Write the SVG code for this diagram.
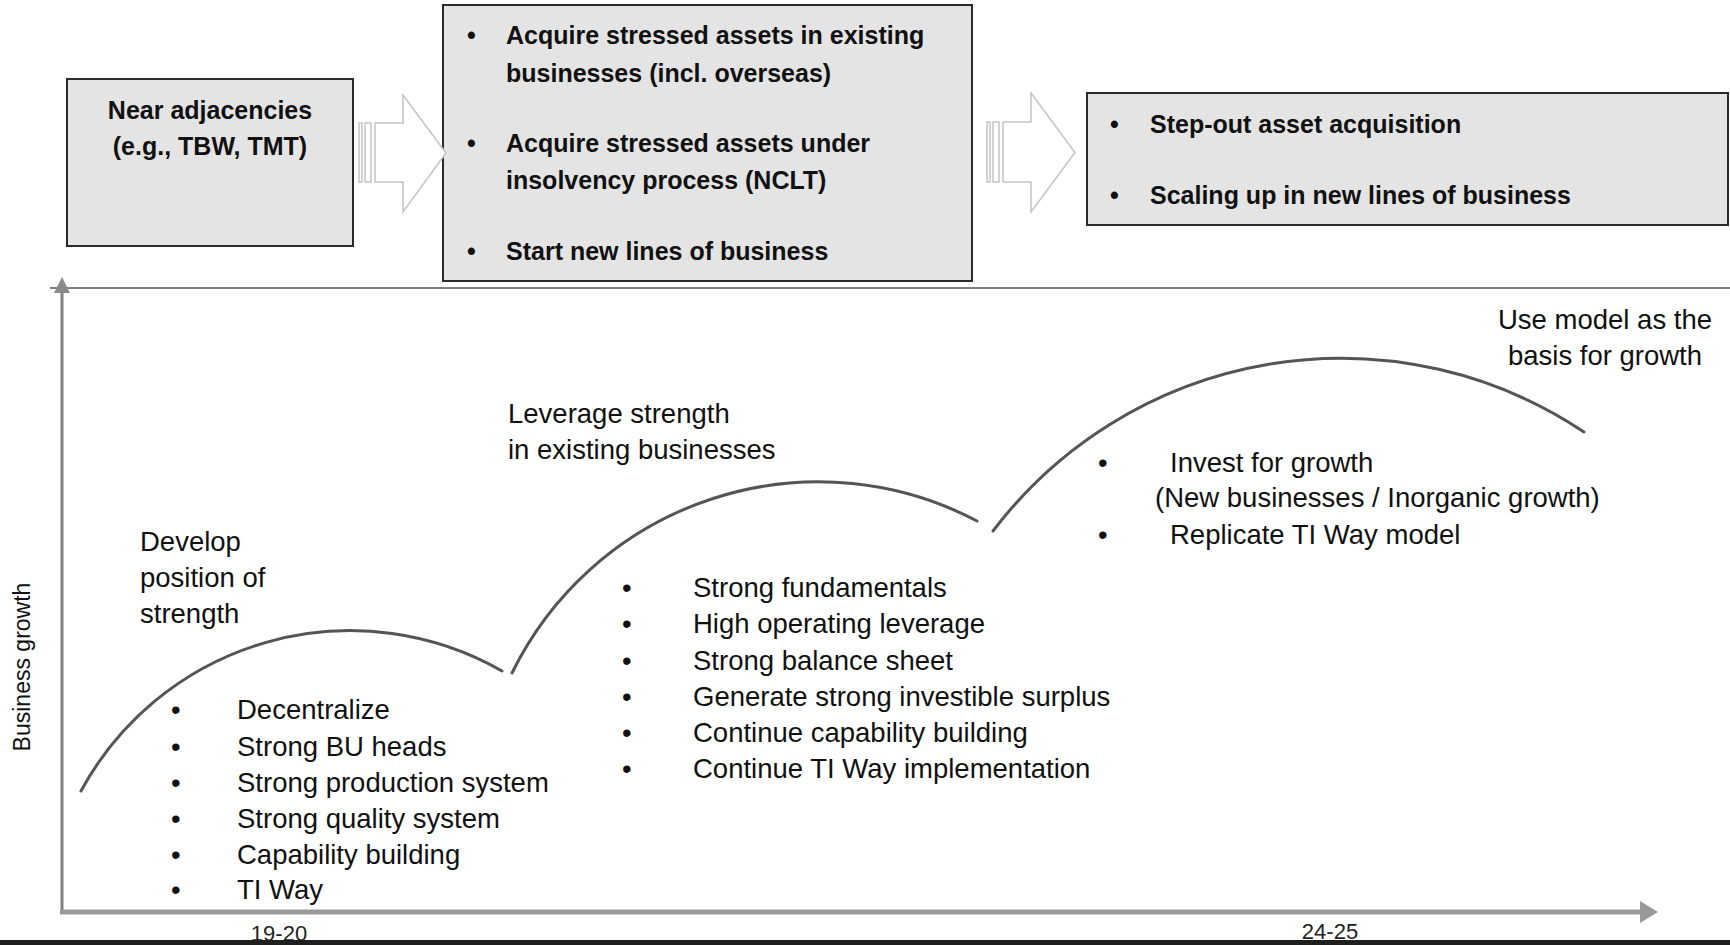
<svg xmlns="http://www.w3.org/2000/svg" width="1730" height="945" viewBox="0 0 1730 945">
  <style>
    .box { fill: #e4e4e4; stroke: #2a2a2a; stroke-width: 2; }
    .btxt { font-family: "Liberation Sans", Arial, sans-serif; font-weight: bold; font-size: 25px; fill: #111; }
    .txt { font-family: "Liberation Sans", Arial, sans-serif; font-size: 27.5px; fill: #111; }
    .tick { font-family: "Liberation Sans", Arial, sans-serif; font-size: 22px; fill: #222; }
    .blockarrow { fill: #ffffff; stroke: #c4c4c4; stroke-width: 1.5; }
    .curve { fill: none; stroke: #555; stroke-width: 3; stroke-linecap: round; }
    .axis { fill: #8a8a8a; }
  </style>
  <rect width="1730" height="945" fill="#ffffff"/>

  <!-- stage boxes -->
  <g id="near-adjacencies">
    <rect class="box" x="67" y="79" width="286" height="167"/>
    <text class="btxt" x="210" y="119" text-anchor="middle">Near adjacencies</text>
    <text class="btxt" x="210" y="155" text-anchor="middle">(e.g., TBW, TMT)</text>
  </g>

  <g id="stressed-assets">
    <rect class="box" x="443" y="5" width="529" height="276"/>
    <text class="btxt" x="467" y="44">•</text>
    <text class="btxt" x="506" y="44">Acquire stressed assets in existing</text>
    <text class="btxt" x="506" y="82">businesses (incl. overseas)</text>
    <text class="btxt" x="467" y="152">•</text>
    <text class="btxt" x="506" y="152">Acquire stressed assets under</text>
    <text class="btxt" x="506" y="189">insolvency process (NCLT)</text>
    <text class="btxt" x="467" y="260">•</text>
    <text class="btxt" x="506" y="260">Start new lines of business</text>
  </g>

  <g id="step-out">
    <rect class="box" x="1087" y="93" width="641" height="132"/>
    <text class="btxt" x="1110" y="133">•</text>
    <text class="btxt" x="1150" y="133">Step-out asset acquisition</text>
    <text class="btxt" x="1110" y="204">•</text>
    <text class="btxt" x="1150" y="204">Scaling up in new lines of business</text>
  </g>

  <!-- connectors: striped block arrows between the boxes -->
  <g id="connectors">
    <g id="arrow-1">
      <rect class="blockarrow" x="359" y="123" width="3" height="59"/>
      <rect class="blockarrow" x="365" y="123" width="6" height="59"/>
      <polygon class="blockarrow" points="375,123 403,123 403,95 446,153 403,212 403,182 375,182"/>
    </g>
    <g id="arrow-2">
      <rect class="blockarrow" x="987" y="122" width="3" height="60"/>
      <rect class="blockarrow" x="993" y="122" width="6" height="60"/>
      <polygon class="blockarrow" points="1003,122 1031,122 1031,93 1075,152.5 1031,212 1031,182 1003,182"/>
    </g>
  </g>

  <!-- separator and axes -->
  <line x1="50" y1="288" x2="1730" y2="288" stroke="#555" stroke-width="1.5"/>
  <g id="axes">
    <line x1="62" y1="913" x2="62" y2="290" stroke="#808080" stroke-width="3"/>
    <polygon class="axis" points="62,277 70,293 54,293"/>
    <line x1="60" y1="912" x2="1642" y2="912" stroke="#9a9a9a" stroke-width="5"/>
    <polygon points="1640,901 1658,912 1640,923" fill="#9a9a9a"/>
    <text class="tick" x="279" y="941" text-anchor="middle">19-20</text>
    <text class="tick" x="1330" y="939" text-anchor="middle">24-25</text>
    <text class="txt" style="font-size:23px" x="0" y="0" text-anchor="middle" transform="translate(30,667) rotate(-90)">Business growth</text>
  </g>
  <rect x="0" y="940" width="1730" height="5" fill="#1e1e1e"/>

  <!-- growth curves -->
  <g id="growth-curves">
    <path class="curve" d="M81,791 A306,306 0 0 1 502,671"/>
    <path class="curve" d="M512,673 A341,341 0 0 1 977,521"/>
    <path class="curve" d="M993,531 A437,437 0 0 1 1584,432"/>
  </g>

  <!-- phase 1 -->
  <g id="phase-1">
    <text class="txt" x="140" y="551">Develop</text>
    <text class="txt" x="140" y="587">position of</text>
    <text class="txt" x="140" y="623">strength</text>
    <text class="txt" x="171" y="719">•</text>
    <text class="txt" x="237" y="719">Decentralize</text>
    <text class="txt" x="171" y="756">•</text>
    <text class="txt" x="237" y="756">Strong BU heads</text>
    <text class="txt" x="171" y="792">•</text>
    <text class="txt" x="237" y="792">Strong production system</text>
    <text class="txt" x="171" y="828">•</text>
    <text class="txt" x="237" y="828">Strong quality system</text>
    <text class="txt" x="171" y="864">•</text>
    <text class="txt" x="237" y="864">Capability building</text>
    <text class="txt" x="171" y="899">•</text>
    <text class="txt" x="237" y="899">TI Way</text>
  </g>

  <!-- phase 2 -->
  <g id="phase-2">
    <text class="txt" x="508" y="423">Leverage strength</text>
    <text class="txt" x="508" y="459">in existing businesses</text>
    <text class="txt" x="622" y="597">•</text>
    <text class="txt" x="693" y="597">Strong fundamentals</text>
    <text class="txt" x="622" y="633">•</text>
    <text class="txt" x="693" y="633">High operating leverage</text>
    <text class="txt" x="622" y="670">•</text>
    <text class="txt" x="693" y="670">Strong balance sheet</text>
    <text class="txt" x="622" y="706">•</text>
    <text class="txt" x="693" y="706">Generate strong investible surplus</text>
    <text class="txt" x="622" y="742">•</text>
    <text class="txt" x="693" y="742">Continue capability building</text>
    <text class="txt" x="622" y="778">•</text>
    <text class="txt" x="693" y="778">Continue TI Way implementation</text>
  </g>

  <!-- phase 3 -->
  <g id="phase-3">
    <text class="txt" x="1605" y="329" text-anchor="middle">Use model as the</text>
    <text class="txt" x="1605" y="365" text-anchor="middle">basis for growth</text>
    <text class="txt" x="1098" y="472">•</text>
    <text class="txt" x="1170" y="472">Invest for growth</text>
    <text class="txt" x="1155" y="507">(New businesses / Inorganic growth)</text>
    <text class="txt" x="1098" y="544">•</text>
    <text class="txt" x="1170" y="544">Replicate TI Way model</text>
  </g>
</svg>
